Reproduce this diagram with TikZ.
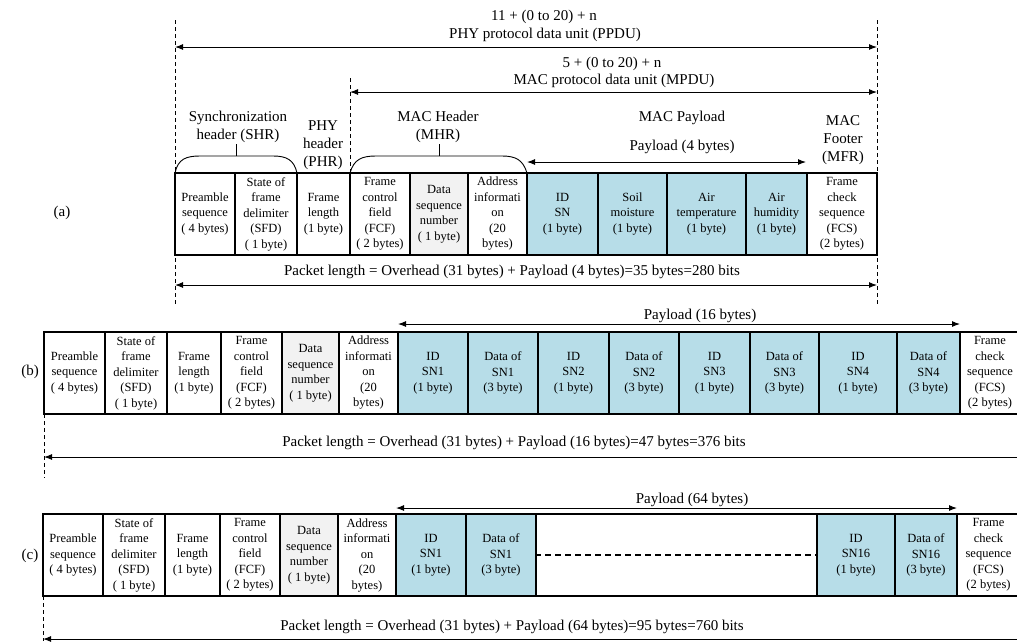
\documentclass[tikz,border=0pt]{standalone}
\usepackage{fontspec}
\setmainfont{Liberation Serif}
\usetikzlibrary{arrows.meta}

\definecolor{sensorblue}{HTML}{B7DDE8}
\definecolor{seqgray}{HTML}{F2F2F2}
\newcommand{\fieldfont}{\fontsize{12.5}{15.5}\selectfont}
\newcommand{\captfont}{\fontsize{15}{18}\selectfont}

\tikzset{
  field/.style={draw, line width=2pt, inner sep=0pt, align=center, minimum height=82pt, font=\fieldfont},
  payload/.style={field, fill=sensorblue},
  seqno/.style={field, fill=seqgray},
  capt/.style={align=center, inner sep=0pt, font=\captfont},
  span/.style={{Latex[length=8pt,width=6pt]}-{Latex[length=8pt,width=6pt]}, line width=1pt},
  lspan/.style={{Latex[length=8pt,width=6pt]}-, line width=1pt},
  guide/.style={dash pattern=on 4pt off 3pt, line width=0.7pt}
}

\begin{document}
\begin{tikzpicture}[x=1pt,y=-1pt]
\useasboundingbox (0,0) rectangle (1017,641);

% (a)
\node[capt] (la) at (62,213) {(a)};
\node[field, minimum width=60pt] (a1) at (205,214) {Preamble\\sequence\\( 4 bytes)};
\node[field, minimum width=62pt] (a2) at (266,214) {State of\\frame\\delimiter\\(SFD)\\( 1 byte)};
\node[field, minimum width=53pt] (a3) at (323.5,214) {Frame\\length\\(1 byte)};
\node[field, minimum width=60pt] (a4) at (380,214) {Frame\\control\\field\\(FCF)\\( 2 bytes)};
\node[seqno, minimum width=58pt] (a5) at (439,214) {Data\\sequence\\number\\( 1 byte)};
\node[field, minimum width=59pt] (a6) at (497.5,214) {Address\\informati\\on\\(20\\bytes)};
\node[payload, minimum width=71pt] (a7) at (562.5,214) {ID\\SN\\(1 byte)};
\node[payload, minimum width=69pt] (a8) at (632.5,214) {Soil\\moisture\\(1 byte)};
\node[payload, minimum width=79pt] (a9) at (706.5,214) {Air\\temperature\\(1 byte)};
\node[payload, minimum width=61pt] (a10) at (776.5,214) {Air\\humidity\\(1 byte)};
\node[field, minimum width=70pt] (a11) at (842,214) {Frame\\check\\sequence\\(FCS)\\(2 bytes)};

\draw[guide] (175,20) -- (175,305);
\draw[guide] (877,20) -- (877,305);
\draw[guide] (350,78) -- (350,173);

\node[capt] (ppdun) at (544,17) {11 + (0 to 20) + n};
\node[capt] (ppdu) at (545,35) {PHY protocol data unit (PPDU)};
\coordinate (ppduL) at (175,47);
\coordinate (ppduR) at (877,47);
\draw[span] (ppduL) -- (ppduR);

\node[capt] (mpdun) at (612,64) {5 + (0 to 20) + n};
\node[capt] (mpdu) at (614,81) {MAC protocol data unit (MPDU)};
\coordinate (mpduL) at (350,92);
\coordinate (mpduR) at (877,92);
\draw[span] (mpduL) -- (mpduR);

\node[capt] (shr) at (238,127) {Synchronization\\header (SHR)};
\node[capt] (phr) at (323,145) {PHY\\header\\(PHR)};
\node[capt] (mhr) at (438,127) {MAC Header\\(MHR)};
\node[capt] (macpl) at (682,118) {MAC Payload};
\node[capt] (pla) at (682,147) {Payload (4 bytes)};
\node[capt] (mfr) at (843,140) {MAC\\Footer\\(MFR)};

\draw[line width=0.9pt] (175,173) .. controls (178,159) and (186,156) .. (200,156) -- (273,156) .. controls (287,156) and (294,160) .. (297,173);
\draw[line width=0.9pt] (236,156) -- (236,144);
\draw[line width=0.9pt] (350,173) .. controls (354,159) and (362,156) .. (376,156) -- (502,156) .. controls (516,156) and (523,160) .. (527,173);
\draw[line width=0.9pt] (439,156) -- (439,144);

\coordinate (plaL) at (527,162);
\coordinate (plaR) at (806,162);
\draw[span] (plaL) -- (plaR);

\node[capt] (pkta) at (512,272) {Packet length = Overhead (31 bytes) + Payload (4 bytes)=35 bytes=280 bits};
\coordinate (pktaL) at (175,285);
\coordinate (pktaR) at (877,285);
\draw[span] (pktaL) -- (pktaR);

% (b)
\node[capt] (lb) at (30,372) {(b)};
\node[field, minimum width=61pt] (b1) at (74.5,373) {Preamble\\sequence\\( 4 bytes)};
\node[field, minimum width=62pt] (b2) at (136,373) {State of\\frame\\delimiter\\(SFD)\\( 1 byte)};
\node[field, minimum width=54pt] (b3) at (194,373) {Frame\\length\\(1 byte)};
\node[field, minimum width=61pt] (b4) at (251.5,373) {Frame\\control\\field\\(FCF)\\( 2 bytes)};
\node[seqno, minimum width=57pt] (b5) at (310.5,373) {Data\\sequence\\number\\( 1 byte)};
\node[field, minimum width=59pt] (b6) at (368.5,373) {Address\\informati\\on\\(20\\bytes)};
\node[payload, minimum width=70pt] (b7) at (433,373) {ID\\SN1\\(1 byte)};
\node[payload, minimum width=70pt] (b8) at (503,373) {Data of\\SN1\\(3 byte)};
\node[payload, minimum width=71pt] (b9) at (573.5,373) {ID\\SN2\\(1 byte)};
\node[payload, minimum width=70pt] (b10) at (644,373) {Data of\\SN2\\(3 byte)};
\node[payload, minimum width=71pt] (b11) at (714.5,373) {ID\\SN3\\(1 byte)};
\node[payload, minimum width=69pt] (b12) at (784.5,373) {Data of\\SN3\\(3 byte)};
\node[payload, minimum width=78pt] (b13) at (858,373) {ID\\SN4\\(1 byte)};
\node[payload, minimum width=63pt] (b14) at (928.5,373) {Data of\\SN4\\(3 byte)};
\node[field, minimum width=60pt] (b15) at (990,373) {Frame\\check\\sequence\\(FCS)\\(2 bytes)};

\node[capt] (plb) at (700,316) {Payload (16 bytes)};
\coordinate (plbL) at (398,324);
\coordinate (plbR) at (960,324);
\draw[span] (plbL) -- (plbR);

\draw[guide] (44,414) -- (44,478);
\node[capt] (pktb) at (514,443) {Packet length = Overhead (31 bytes) + Payload (16 bytes)=47 bytes=376 bits};
\coordinate (pktbL) at (44,457);
\coordinate (pktbR) at (1017,457);
\draw[lspan] (pktbL) -- (pktbR);

% (c)
\node[capt] (lc) at (30,556) {(c)};
\node[field, minimum width=60pt] (c1) at (73,555) {Preamble\\sequence\\( 4 bytes)};
\node[field, minimum width=62pt] (c2) at (134,555) {State of\\frame\\delimiter\\(SFD)\\( 1 byte)};
\node[field, minimum width=55pt] (c3) at (192.5,555) {Frame\\length\\(1 byte)};
\node[field, minimum width=60pt] (c4) at (250,555) {Frame\\control\\field\\(FCF)\\( 2 bytes)};
\node[seqno, minimum width=58pt] (c5) at (309,555) {Data\\sequence\\number\\( 1 byte)};
\node[field, minimum width=58pt] (c6) at (367,555) {Address\\informati\\on\\(20\\bytes)};
\node[payload, minimum width=70pt] (c7) at (431,555) {ID\\SN1\\(1 byte)};
\node[payload, minimum width=70pt] (c8) at (501,555) {Data of\\SN1\\(3 byte)};
\node[field, minimum width=281pt] (c9) at (676.5,555) {};
\node[payload, minimum width=78pt] (c10) at (856,555) {ID\\SN16\\(1 byte)};
\node[payload, minimum width=62pt] (c11) at (926,555) {Data of\\SN16\\(3 byte)};
\node[field, minimum width=63pt] (c12) at (988.5,555) {Frame\\check\\sequence\\(FCS)\\(2 bytes)};

\draw[dash pattern=on 6pt off 4pt, line width=1.2pt] (c9.west) -- (c9.east);

\node[capt] (plc) at (692,500) {Payload (64 bytes)};
\coordinate (plcL) at (396,508);
\coordinate (plcR) at (957,508);
\draw[span] (plcL) -- (plcR);

\draw[guide] (43,596) -- (43,641);
\node[capt] (pktc) at (512,627) {Packet length = Overhead (31 bytes) + Payload (64 bytes)=95 bytes=760 bits};
\coordinate (pktcL) at (43,639);
\coordinate (pktcR) at (1017,639);
\draw[lspan] (pktcL) -- (pktcR);
\end{tikzpicture}
\end{document}
